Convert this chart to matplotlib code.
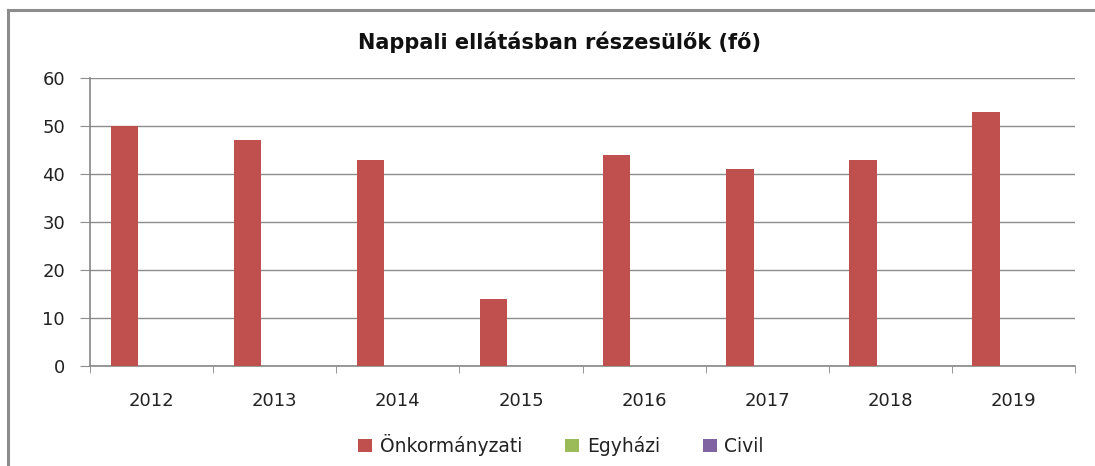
import numpy as np
import matplotlib.pyplot as plt
from matplotlib.lines import Line2D

plt.rcParams['font.family'] = ['DejaVu Sans']

years = ["2012", "2013", "2014", "2015", "2016", "2017", "2018", "2019"]
onkormanyzati = [50, 47, 43, 14, 44, 41, 43, 53]
egyhazi = [0, 0, 0, 0, 0, 0, 0, 0]
civil = [0, 0, 0, 0, 0, 0, 0, 0]

series = [("Önkormányzati", onkormanyzati, "#C0504D"),
          ("Egyházi", egyhazi, "#9BBB59"),
          ("Civil", civil, "#8064A2")]

W, H = 1095, 466
fig = plt.figure(figsize=(W / 100, H / 100), dpi=100)
ax = fig.add_axes([90 / W, 100 / H, 985 / W, 288 / H])

# chart frame (only left and top edges are visible)
fig.add_artist(Line2D([8 / W, 8 / W], [0, 1 - 10 / H], color="#8c8c8c", lw=2.2))
fig.add_artist(Line2D([8 / W, 1], [1 - 10 / H, 1 - 10 / H], color="#8c8c8c", lw=2.2))

x = np.arange(len(years))
w = 1 / 4.5
for i, (name, vals, col) in enumerate(series):
    ax.bar(x + (i - 1) * w, vals, w, color=col, label=name, zorder=3)

ax.set_xlim(-0.5, len(years) - 0.5)
ax.set_ylim(0, 60)
ax.set_yticks(range(0, 61, 10))
ax.set_xticks(x)
ax.set_xticklabels(years)
ax.set_xticks(np.arange(-0.5, len(years), 1), minor=True)
ax.tick_params(axis="x", which="major", length=0, pad=19, labelsize=13,
               labelcolor="#222222")
ax.tick_params(axis="x", which="minor", length=5, color="#868686", direction="out")
ax.tick_params(axis="y", length=7, color="#8c8c8c", labelsize=13, pad=11,
               labelcolor="#222222")
ax.grid(axis="y", color="#8c8c8c", lw=1, zorder=0)
for s in ["top", "right"]:
    ax.spines[s].set_visible(False)
for s in ["left", "bottom"]:
    ax.spines[s].set_color("#868686")
    ax.spines[s].set_linewidth(1.2)

fig.text(560 / W, 1 - 42 / H, "Nappali ellátásban részesülők (fő)", fontsize=15,
         fontweight="bold", ha="center", va="center", color="#111111")

fig.legend(loc="center", bbox_to_anchor=(561 / W, 1 - 445 / H), ncol=3,
           frameon=False, fontsize=13.5, handlelength=0.75, handleheight=0.75,
           handletextpad=0.4, columnspacing=2.3, labelcolor="#222222")

fig.savefig("out.png", dpi=100)
